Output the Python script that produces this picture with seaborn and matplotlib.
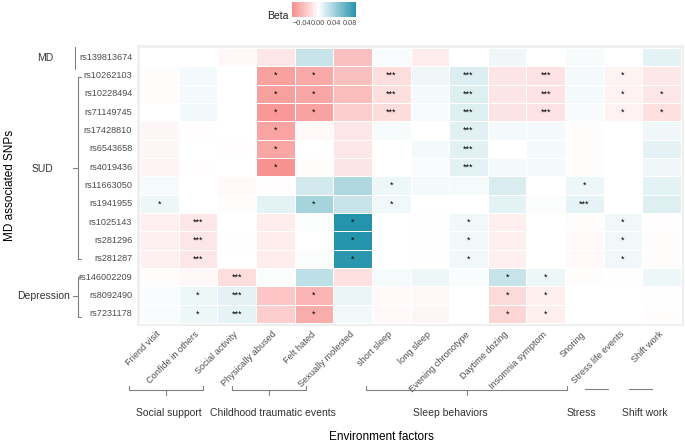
import numpy as np
import pandas as pd
import matplotlib
matplotlib.use("Agg")
import matplotlib.pyplot as plt
from matplotlib.colors import LinearSegmentedColormap
import seaborn as sns

# ---------------------------------------------------------------- data
snps_md = ["rs139813674"]
snps_sud = ["rs10262103", "rs10228494", "rs71149745", "rs17428810", "rs6543658",
            "rs4019436", "rs11663050", "rs1941955", "rs1025143", "rs281296", "rs281287"]
snps_dep = ["rs146002209", "rs8092490", "rs7231178"]

factors = ["Friend visit", "Confide in others", "Social activity", "Physically abused",
           "Felt hated", "Sexually molested", "short sleep", "long sleep",
           "Evening chronotype", "Daytime dozing", "Insomnia symptom", "Snoring",
           "Stress life events", "Shift work"]

factor_groups = ["Social support", "Childhood traumatic events", "Sleep behaviors",
                 "Stress", "Shift work"]

# beta per SNP (columns follow `factors`)
beta_md = [
    [0.0, 0.0, -0.004, -0.0147, 0.0236, -0.0377, 0.003, -0.0106, 0.0, 0.0069, 0.0, 0.0034, 0.0, 0.0116],
]
beta_sud = [
    [-0.002, 0.0047, 0.0, -0.055, -0.0507, -0.0377, -0.0194, 0.0069, 0.015, -0.0153, -0.0165, 0.0047, -0.007, -0.0136],
    [-0.002, 0.0052, 0.0, -0.0554, -0.0513, -0.0389, -0.019, 0.0047, 0.0146, -0.0153, -0.0165, 0.0047, -0.0077, -0.0147],
    [0.0, 0.0056, 0.0, -0.060, -0.0536, -0.0295, -0.020, 0.0039, 0.0146, -0.016, -0.0165, 0.0039, -0.0077, -0.0183],
    [-0.0053, -0.0015, 0.0, -0.053, -0.003, -0.0147, 0.0034, 0.0, 0.0133, 0.0047, 0.0047, -0.002, 0.0, 0.0069],
    [-0.0053, 0.0, -0.0015, -0.052, 0.0, -0.0147, 0.0, 0.0047, 0.0129, 0.0, 0.0047, -0.002, 0.0, 0.0112],
    [-0.0065, -0.0015, 0.0, -0.0636, -0.002, -0.0153, 0.0, 0.003, 0.0124, 0.0047, 0.0047, -0.002, 0.0, 0.0069],
    [0.0043, 0.0, -0.003, -0.0015, 0.0193, 0.034, 0.0073, 0.0047, 0.0043, 0.0163, 0.0, 0.0073, 0.0, 0.012],
    [0.0073, 0.0, -0.002, 0.0116, 0.0382, 0.0236, 0.006, 0.0, 0.0, 0.012, 0.002, 0.0107, 0.0, 0.0142],
    [-0.0088, -0.0147, 0.0, -0.0106, 0.002, 0.0936, 0.0, -0.001, 0.006, -0.010, 0.0, -0.002, 0.006, -0.0015],
    [-0.0088, -0.0147, -0.001, -0.0106, 0.0, 0.094, 0.0, -0.001, 0.006, -0.010, 0.0, -0.003, 0.006, -0.002],
    [-0.0088, -0.0147, 0.0, -0.0106, 0.002, 0.091, 0.0, -0.001, 0.006, -0.009, 0.0, -0.003, 0.006, -0.002],
]
beta_dep = [
    [-0.002, -0.004, -0.0194, 0.002, 0.0279, -0.018, 0.004, 0.0073, 0.003, 0.0249, 0.0073, -0.002, -0.001, 0.0073],
    [0.003, 0.0073, 0.0112, -0.033, -0.0436, 0.0086, -0.003, -0.004, 0.0, -0.0218, -0.0094, 0.0, 0.0, -0.001],
    [0.003, 0.0073, 0.0107, -0.0283, -0.048, 0.0064, -0.003, -0.005, 0.0, -0.0247, -0.0094, 0.0, 0.0, -0.002],
]

# significance marks
stars_md = [
    ["", "", "", "", "", "", "", "", "", "", "", "", "", ""],
]
stars_sud = [
    ["", "", "", "*", "*", "", "***", "", "***", "", "***", "", "*", ""],
    ["", "", "", "*", "*", "", "***", "", "***", "", "***", "", "*", "*"],
    ["", "", "", "*", "*", "", "***", "", "***", "", "***", "", "*", "*"],
    ["", "", "", "*", "", "", "", "", "***", "", "", "", "", ""],
    ["", "", "", "*", "", "", "", "", "***", "", "", "", "", ""],
    ["", "", "", "*", "", "", "", "", "***", "", "", "", "", ""],
    ["", "", "", "", "", "", "*", "", "", "", "", "*", "", ""],
    ["*", "", "", "", "*", "", "*", "", "", "", "", "***", "", ""],
    ["", "***", "", "", "", "*", "", "", "*", "", "", "", "*", ""],
    ["", "***", "", "", "", "*", "", "", "*", "", "", "", "*", ""],
    ["", "***", "", "", "", "*", "", "", "*", "", "", "", "*", ""],
]
stars_dep = [
    ["", "", "***", "", "", "", "", "", "", "*", "*", "", "", ""],
    ["", "*", "***", "", "*", "", "", "", "", "*", "*", "", "", ""],
    ["", "*", "***", "", "*", "", "", "", "", "*", "*", "", "", ""],
]

# ---------------------------------------------------------------- build tables
snps = snps_md + snps_sud + snps_dep
beta_df = pd.DataFrame(beta_md + beta_sud + beta_dep, index=snps, columns=factors)
stars_df = pd.DataFrame(stars_md + stars_sud + stars_dep, index=snps, columns=factors)

vmin, vmax = -0.066, 0.094
mid = -vmin / (vmax - vmin)
cmap = LinearSegmentedColormap.from_list(
    "beta", [(0, "#F78F8D"), (mid, "#FFFFFF"), (1, "#2494AC")])

# ---------------------------------------------------------------- plot
sns.set_style("white")
plt.rcParams["font.family"] = ["Liberation Sans", "DejaVu Sans"]

W, H = 685, 443
fig = plt.figure(figsize=(W / 100, H / 100), dpi=100)

# panel: 137..684 x 45..326 px
ax = fig.add_axes([137 / W, 1 - 326 / H, 547 / W, 281 / H])
sns.heatmap(beta_df, cmap=cmap, vmin=vmin, vmax=vmax, annot=stars_df, fmt="",
            annot_kws={"fontsize": 6.5, "color": "black"},
            linewidths=0.4, linecolor="white", cbar=False, ax=ax)

ax.set_facecolor("#EFEFEF")
for s in ax.spines.values():
    s.set_visible(False)
bx = 3 / (541 / 14)
by = 3 / (275 / 15)
ax.set_xlim(-bx, 14 + bx)
ax.set_ylim(15 + by, -by)

ax.set_xticks(np.arange(len(factors)) + 0.5)
ax.set_xticklabels(factors, rotation=45, ha="right", va="center",
                   rotation_mode="anchor", fontsize=6.6, color="#4D4D4D")
ax.set_yticks(np.arange(len(snps)) + 0.5)
ax.set_yticklabels(snps, rotation=0, fontsize=6.6, color="#4D4D4D")
ax.tick_params(axis="x", length=0, pad=5)
ax.tick_params(axis="y", length=0, pad=3.5)
ax.set_xlabel("")
ax.set_ylabel("")

# colour bar
cax = fig.add_axes([292 / W, 1 - 17.3 / H, 64 / W, 15.6 / H])
cb = fig.colorbar(ax.collections[0], cax=cax, orientation="horizontal")
cb.set_ticks([-0.04, 0.0, 0.04, 0.08])
cb.ax.set_xticklabels(["\u22120.04", "0.00", "0.04", "0.08"])
cb.outline.set_visible(False)
cax.tick_params(length=2.5, color="white", direction="in", pad=2,
                labelsize=5.3, labelcolor="#4D4D4D")
fig.text(288 / W, 1 - 16 / H, "Beta", ha="right", va="center", fontsize=7.5, color="#222222")

# overlay in pixel coordinates for brackets and group labels
ov = fig.add_axes([0, 0, 1, 1])
ov.set_xlim(0, W)
ov.set_ylim(H, 0)
ov.axis("off")
ov.patch.set_alpha(0)
lc = dict(color="#808080", lw=0.8)
gcol = "#333333"

# SNP groups
ov.plot([75, 75], [47, 69], **lc)
ov.plot([81, 78, 78, 81], [77, 77, 259, 259], **lc)
ov.plot([78, 73], [168, 168], **lc)
ov.plot([81, 78, 78, 81], [277, 277, 317, 317], **lc)
ov.plot([78, 73], [296, 296], **lc)
ov.text(53, 58, "MD", ha="right", va="center", fontsize=7.5, color=gcol)
ov.text(53, 169, "SUD", ha="right", va="center", fontsize=7.5, color=gcol)
ov.text(70, 296, "Depression", ha="right", va="center", fontsize=7.5, color=gcol)

# factor groups
def hbracket(x0, x1, xm, y=390):
    ov.plot([x0, x0, x1, x1], [y - 4, y, y, y - 4], **lc)
    ov.plot([xm, xm], [y, y + 5], **lc)

hbracket(129, 203, 166)
hbracket(232, 306, 269)
hbracket(366, 567, 467)
ov.plot([585, 608], [389, 389], **lc)
ov.plot([629, 652], [389, 389], **lc)

for label, x in zip(factor_groups, [169, 273, 450, 581, 645]):
    ov.text(x, 413, label, ha="center", va="center", fontsize=7.5, color=gcol)

ov.text(381, 437, "Environment factors", ha="center", va="center", fontsize=8.5, color="black")
ov.text(10, 185, "MD associated SNPs", ha="center", va="center", rotation=90,
        fontsize=8.5, color="black")

fig.savefig("out.png", dpi=100)
